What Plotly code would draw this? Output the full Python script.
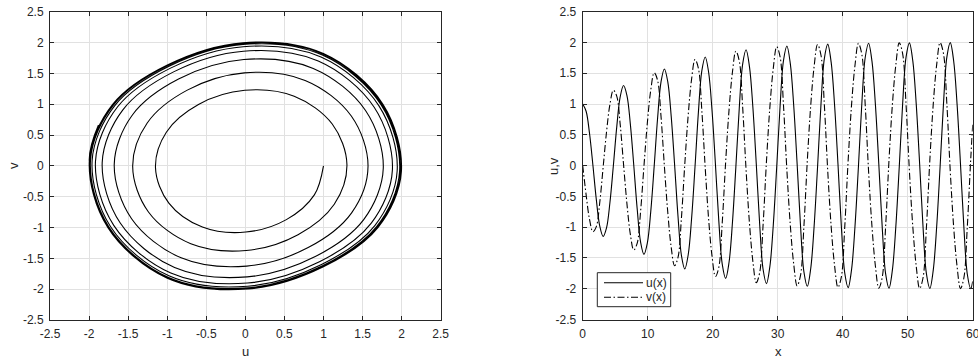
import plotly.graph_objects as go

# Oscillator run: position x, solution components u(x) and v(x)
x_vals = [
    0.000, 0.524, 1.047, 1.571, 2.094, 2.618, 3.142, 3.665, 4.189, 4.712, 5.236, 5.760,
    6.283, 6.807, 7.330, 7.854, 8.378, 8.901, 9.425, 9.948, 10.472, 10.996, 11.519, 12.043,
    12.566, 13.090, 13.614, 14.137, 14.661, 15.184, 15.708, 16.232, 16.755, 17.279, 17.802, 18.326,
    18.850, 19.373, 19.897, 20.420, 20.944, 21.468, 21.991, 22.515, 23.038, 23.562, 24.086, 24.609,
    25.133, 25.656, 26.180, 26.704, 27.227, 27.751, 28.274, 28.798, 29.322, 29.845, 30.369, 30.892,
    31.416, 31.940, 32.463, 32.987, 33.510, 34.034, 34.558, 35.081, 35.605, 36.128, 36.652, 37.176,
    37.699, 38.223, 38.746, 39.270, 39.794, 40.317, 40.841, 41.364, 41.888, 42.412, 42.935, 43.459,
    43.982, 44.506, 45.029, 45.553, 46.077, 46.600, 47.124, 47.647, 48.171, 48.695, 49.218, 49.742,
    50.265, 50.789, 51.313, 51.836, 52.360, 52.883, 53.407, 53.931, 54.454, 54.978, 55.501, 56.025,
    56.549, 57.072, 57.596, 58.119, 58.643, 59.166, 59.690, 60.000,
]

u_vals = [
    1.000, 0.883, 0.525, 0.005, -0.550, -0.979, -1.150, -1.011, -0.600, -0.007, 0.625, 1.112,
    1.300, 1.138, 0.674, 0.010, -0.698, -1.240, -1.442, -1.256, -0.743, -0.013, 0.765, 1.356,
    1.570, 1.360, 0.804, 0.017, -0.822, -1.456, -1.678, -1.448, -0.855, -0.020, 0.869, 1.538,
    1.765, 1.517, 0.895, 0.023, -0.906, -1.601, -1.832, -1.570, -0.925, -0.025, 0.933, 1.649,
    1.882, 1.609, 0.948, 0.027, -0.954, -1.684, -1.918, -1.637, -0.964, -0.028, 0.968, 1.708,
    1.943, 1.657, 0.975, 0.029, -0.978, -1.726, -1.961, -1.671, -0.983, -0.030, 0.985, 1.738,
    1.974, 1.680, 0.988, 0.030, -0.990, -1.746, -1.982, -1.687, -0.992, -0.031, 0.993, 1.752,
    1.988, 1.692, 0.995, 0.031, -0.995, -1.755, -1.992, -1.694, -0.996, -0.031, 0.997, 1.758,
    1.994, 1.697, 0.998, 0.031, -0.998, -1.760, -1.996, -1.698, -0.998, -0.031, 0.999, 1.761,
    1.997, 1.699, 0.999, 0.031, -0.999, -1.761, -1.998, -1.880,
]

v_vals = [
    0.000, -0.471, -0.872, -1.074, -0.992, -0.604, -0.030, 0.546, 0.995, 1.225, 1.129, 0.678,
    0.021, -0.622, -1.116, -1.372, -1.263, -0.748, -0.008, 0.695, 1.228, 1.508, 1.386, 0.808,
    -0.008, -0.763, -1.326, -1.626, -1.492, -0.858, 0.024, 0.821, 1.407, 1.724, 1.580, 0.898,
    -0.040, -0.868, -1.471, -1.801, -1.649, -0.928, 0.054, 0.905, 1.520, 1.859, 1.700, 0.950,
    -0.065, -0.933, -1.555, -1.901, -1.738, -0.965, 0.073, 0.954, 1.581, 1.932, 1.765, 0.976,
    -0.079, -0.968, -1.599, -1.953, -1.784, -0.984, 0.084, 0.978, 1.611, 1.968, 1.797, 0.989,
    -0.087, -0.985, -1.620, -1.978, -1.807, -0.993, 0.089, 0.990, 1.626, 1.985, 1.813, 0.995,
    -0.091, -0.993, -1.630, -1.990, -1.817, -0.997, 0.092, 0.995, 1.633, 1.993, 1.820, 0.998,
    -0.092, -0.997, -1.635, -1.995, -1.822, -0.999, 0.093, 0.998, 1.636, 1.997, 1.823, 0.999,
    -0.093, -0.998, -1.637, -1.998, -1.823, -0.999, 0.093, 0.664,
]

series_names = ["u(x)", "v(x)"]

# Tick positions and labels
uv_ticks = [-2.5, -2, -1.5, -1, -0.5, 0, 0.5, 1, 1.5, 2, 2.5]
uv_tick_text = ["-2.5", "-2", "-1.5", "-1", "-0.5", "0", "0.5", "1", "1.5", "2", "2.5"]
x_ticks = [0, 10, 20, 30, 40, 50, 60]
x_tick_text = ["0", "10", "20", "30", "40", "50", "60"]

W, H = 978, 360
INK = "#262626"
GRID = "#e1e1e1"
FONT = "Liberation Sans, Arial, Helvetica, sans-serif"
DASHDOT = "7px,2.5px,1.5px,2.5px"

fig = go.Figure()

# Phase portrait (u, v)
fig.add_trace(go.Scatter(
    x=u_vals, y=v_vals, mode="lines", xaxis="x", yaxis="y",
    line=dict(color="#000000", width=1.1, shape="spline"),
    showlegend=False, hoverinfo="skip",
))

# Time histories
fig.add_trace(go.Scatter(
    x=x_vals, y=u_vals, mode="lines", xaxis="x2", yaxis="y2", name=series_names[0],
    line=dict(color="#000000", width=1.1, shape="spline"), showlegend=False,
))
fig.add_trace(go.Scatter(
    x=x_vals, y=v_vals, mode="lines", xaxis="x2", yaxis="y2", name=series_names[1],
    line=dict(color="#000000", width=1.1, shape="spline", dash=DASHDOT), showlegend=False,
))


def px_x(p):
    return p / W


def px_y(p):
    return (H - p) / H


axis_common = dict(
    showgrid=True, gridcolor=GRID, gridwidth=1,
    showline=True, linecolor=INK, linewidth=1, mirror="ticks",
    ticks="inside", ticklen=4, tickcolor=INK, tickwidth=1,
    zeroline=False, tickfont=dict(family=FONT, size=12, color=INK),
    fixedrange=True, automargin=False,
)

# Boxed key in the lower-left corner of the time-history panel
key_shapes = [
    dict(type="rect", xref="paper", yref="paper",
         x0=px_x(597.3), x1=px_x(670.7), y0=px_y(306.7), y1=px_y(272.7),
         line=dict(color=INK, width=1), fillcolor="white", layer="above"),
    dict(type="line", xref="paper", yref="paper",
         x0=px_x(604), x1=px_x(643), y0=px_y(282.7), y1=px_y(282.7),
         line=dict(color="#000000", width=1.1), layer="above"),
    dict(type="line", xref="paper", yref="paper",
         x0=px_x(604), x1=px_x(643), y0=px_y(297.3), y1=px_y(297.3),
         line=dict(color="#000000", width=1.1, dash=DASHDOT), layer="above"),
]

text_font = dict(family=FONT, size=13, color=INK)
key_font = dict(family=FONT, size=12, color=INK)

annotations = [
    dict(text="u", x=px_x(245), y=px_y(351)),
    dict(text="v", x=px_x(13), y=px_y(166), textangle=-90),
    dict(text="x", x=px_x(778), y=px_y(351)),
    dict(text="u,v", x=px_x(553), y=px_y(166), textangle=-90),
]
for a in annotations:
    a.update(xref="paper", yref="paper", showarrow=False, xanchor="center",
             yanchor="middle", font=text_font)

annotations += [
    dict(text=series_names[0], x=px_x(644.3), y=px_y(282.5), xref="paper", yref="paper",
         showarrow=False, xanchor="left", yanchor="middle", font=key_font),
    dict(text=series_names[1], x=px_x(644.3), y=px_y(297.3), xref="paper", yref="paper",
         showarrow=False, xanchor="left", yanchor="middle", font=key_font),
]

fig.update_layout(
    width=W, height=H,
    margin=dict(l=0, r=0, t=0, b=0, autoexpand=False),
    paper_bgcolor="white", plot_bgcolor="white",
    font=dict(family=FONT, size=12, color=INK),
    showlegend=False,
    xaxis=dict(domain=[px_x(50), px_x(440.7)], range=[-2.5, 2.5], anchor="y",
               tickvals=uv_ticks, ticktext=uv_tick_text, ticklabelstandoff=3, **axis_common),
    yaxis=dict(domain=[px_y(320), px_y(11.7)], range=[-2.5, 2.5], anchor="x",
               tickvals=uv_ticks, ticktext=uv_tick_text, ticklabelstandoff=3, **axis_common),
    xaxis2=dict(domain=[px_x(582.7), px_x(972.7)], range=[0, 60], anchor="y2",
                tickvals=x_ticks, ticktext=x_tick_text, ticklabelstandoff=3,
                ticklabeloverflow="allow", **axis_common),
    yaxis2=dict(domain=[px_y(319.5), px_y(11.7)], range=[-2.5, 2.5], anchor="x2",
                tickvals=uv_ticks, ticktext=uv_tick_text, ticklabelstandoff=3, **axis_common),
    shapes=key_shapes,
    annotations=annotations,
)

fig.write_html("out.html")
